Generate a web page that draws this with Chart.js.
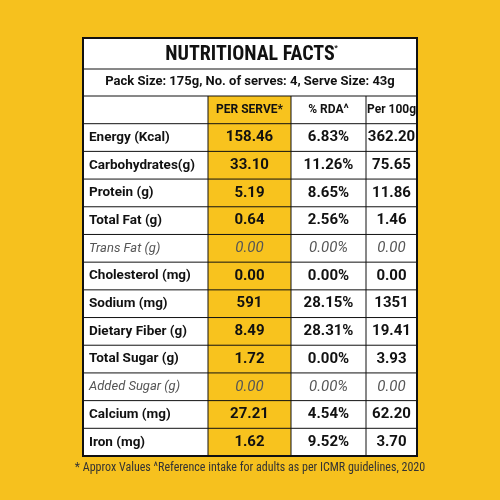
<!DOCTYPE html><html><head><script src="https://cdn.jsdelivr.net/npm/chart.js@4"></script>
<style>body{margin:0;background:#F6C11E}#w{width:500px;height:500px}</style></head><body><div id="w"><canvas id="c" width="500" height="500"></canvas></div>
<script>
const title="NUTRITIONAL FACTS";
const packInfo="Pack Size: 175g, No. of serves: 4, Serve Size: 43g";
const headers=["","PER SERVE*","% RDA^","Per 100g"];
const nutrients=["Energy (Kcal)","Carbohydrates(g)","Protein (g)","Total Fat (g)","Trans Fat (g)","Cholesterol (mg)","Sodium (mg)","Dietary Fiber (g)","Total Sugar (g)","Added Sugar (g)","Calcium (mg)","Iron (mg)"];
const perServe=["158.46","33.10","5.19","0.64","0.00","0.00","591","8.49","1.72","0.00","27.21","1.62"];
const rda=["6.83%","11.26%","8.65%","2.56%","0.00%","0.00%","28.15%","28.31%","0.00%","0.00%","4.54%","9.52%"];
const per100=["362.20","75.65","11.86","1.46","0.00","0.00","1351","19.41","3.93","0.00","62.20","3.70"];
const italicRows=["Trans Fat (g)","Added Sugar (g)"];
const footnote="* Approx Values ^Reference intake for adults as per ICMR guidelines, 2020";
const rows=["header",...nutrients];
const colEdges=[0,125,208,283,334];
const tablePlugin={id:'t',afterDraw(ch){
 const c=ch.ctx,x=ch.scales.x,y=ch.scales.y,a=ch.chartArea;
 const X=v=>x.getPixelForValue(v);
 const rh=(y.getPixelForValue(1)-y.getPixelForValue(0));
 const top=a.top-58;
 c.save();
 c.fillStyle='#fff';c.fillRect(X(0),top,X(334)-X(0),a.bottom-top);
 c.fillStyle='#F8C31E';c.fillRect(X(125),a.top,X(208)-X(125),a.bottom-a.top);
 c.fillStyle='#111';c.textAlign='center';c.textBaseline='middle';
 c.font='bold 20px "Roboto Condensed", Roboto, sans-serif';
 c.fillText(title,(X(0)+X(334))/2,top+17);
 c.font='bold 8px Roboto';c.fillText('*',(X(0)+X(334))/2+86,top+10);
 c.font='bold 13px Roboto';c.fillText(packInfo,(X(0)+X(334))/2,top+44);
 c.strokeStyle='#111';c.lineWidth=1;
 c.beginPath();c.moveTo(X(0),a.top-27);c.lineTo(X(334),a.top-27);c.stroke();
 rows.forEach((r,i)=>{
  const cy=y.getPixelForValue(i);
  c.beginPath();c.moveTo(X(0),cy-rh/2);c.lineTo(X(334),cy-rh/2);c.stroke();
  if(i===0){c.font='bold 12px Roboto';c.textAlign='center';
   for(let k=1;k<4;k++)c.fillText(headers[k],(X(colEdges[k])+X(colEdges[k+1]))/2,cy);return;}
  const j=i-1,it=italicRows.includes(r);
  c.fillStyle=it?'#555':'#111';
  c.textAlign='left';c.font=(it?'italic 13px':'bold 13.5px')+' Roboto';
  c.fillText(r,X(0)+6,cy);
  c.textAlign='center';c.font=(it?'italic 15px':'bold 15px')+' Roboto';
  [perServe[j],rda[j],per100[j]].forEach((v,k)=>c.fillText(v,(X(colEdges[k+1])+X(colEdges[k+2]))/2,cy));
  c.fillStyle='#111';
 });
 colEdges.slice(1,4).forEach(e=>{c.beginPath();c.moveTo(X(e),a.top);c.lineTo(X(e),a.bottom);c.stroke();});
 c.lineWidth=2;c.strokeRect(X(0),top,X(334)-X(0),a.bottom-top);
 c.fillStyle='#333';c.font='12px "Roboto Condensed", Roboto, sans-serif';c.textAlign='center';
 c.fillText(footnote,250,a.bottom+12);
 c.restore();}};
new Chart(document.getElementById('c'),{type:'scatter',data:{labels:rows,datasets:[{data:[]}]},
 options:{responsive:false,animation:false,events:[],
 layout:{padding:{left:83,right:83,top:96,bottom:44}},
 plugins:{legend:{display:false},tooltip:{enabled:false}},
 scales:{x:{type:'linear',min:0,max:334,display:false},
 y:{type:'category',labels:rows,offset:true,display:false}}},plugins:[tablePlugin]});
</script></body></html>
